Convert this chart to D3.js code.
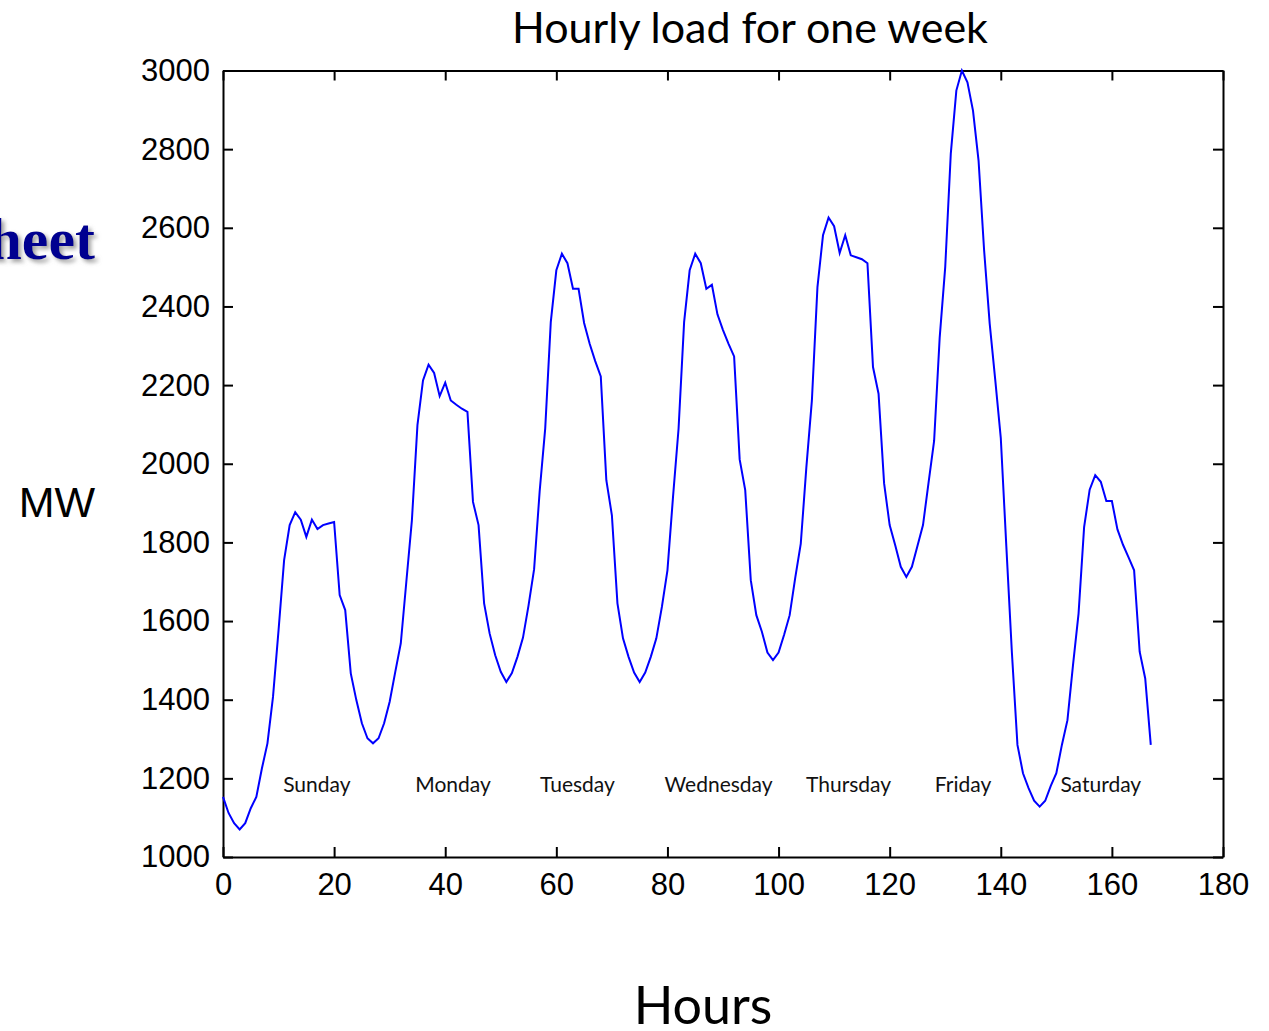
<!DOCTYPE html>
<html>
<head>
<meta charset="utf-8">
<script src="https://cdn.jsdelivr.net/npm/d3@7"></script>
<style>
  body { margin: 0; background: #fff; }
  svg { display: block; }
</style>
</head>
<body>
<div id="chart"></div>
<script>
// Hourly load (MW), hour 0 .. 167
var hours = d3.range(0, 168);
var load = [
  1153, 1112, 1086, 1070, 1086, 1124, 1153, 1225, 1289, 1407, 1577, 1755,
  1844, 1877, 1858, 1814, 1858, 1834, 1844, 1848, 1852, 1666, 1628, 1467,
  1399, 1340, 1302, 1289, 1302, 1340, 1395, 1470, 1543, 1700, 1856, 2098,
  2212, 2252, 2231, 2172, 2206, 2161, 2150, 2140, 2132, 1903, 1844, 1645,
  1568, 1513, 1471, 1445, 1468, 1509, 1558, 1640, 1732, 1930, 2090, 2360,
  2492, 2534, 2510, 2445, 2445, 2358, 2305, 2261, 2222, 1958, 1869, 1645,
  1556, 1509, 1469, 1445, 1469, 1509, 1556, 1636, 1729, 1915, 2089, 2360,
  2492, 2534, 2510, 2445, 2455, 2380, 2340, 2305, 2273, 2011, 1933, 1704,
  1615, 1573, 1520, 1501, 1520, 1565, 1615, 1710, 1797, 1990, 2161, 2449,
  2581, 2626, 2604, 2536, 2581, 2530, 2525, 2520, 2510, 2246, 2178, 1950,
  1844, 1793, 1738, 1712, 1738, 1791, 1844, 1952, 2058, 2320, 2500, 2788,
  2949, 3000, 2970, 2898, 2771, 2543, 2357, 2214, 2066, 1790, 1520, 1285,
  1213, 1175, 1143, 1128, 1143, 1181, 1213, 1285, 1348, 1488, 1619, 1839,
  1934, 1971, 1954, 1905, 1905, 1833, 1794, 1762, 1729, 1522, 1454, 1285
];

var dayNames = ["Sunday", "Monday", "Tuesday", "Wednesday", "Thursday", "Friday", "Saturday"];
var dayLabelHour = [16.9, 41.4, 63.8, 89.2, 112.6, 133.2, 158];

var xTicks = [0, 20, 40, 60, 80, 100, 120, 140, 160, 180];
var yTicks = [1000, 1200, 1400, 1600, 1800, 2000, 2200, 2400, 2600, 2800, 3000];

var svgWidth = 1269;
var svgHeight = 1031;

var plot = { left: 223, right: 1223, top: 70.5, bottom: 857 };

var svg = d3.select("#chart")
    .append("svg")
    .attr("width", svgWidth)
    .attr("height", svgHeight);

// slide text peeking in at the left, with drop shadow
var defs = svg.append("defs");
defs.append("filter")
    .attr("id", "shadow")
    .attr("x", "-20%").attr("y", "-20%")
    .attr("width", "140%").attr("height", "140%")
    .append("feDropShadow")
    .attr("dx", 3)
    .attr("dy", 3)
    .attr("stdDeviation", 2)
    .attr("flood-color", "#888")
    .attr("flood-opacity", 0.8);

svg.append("text")
    .attr("x", 95)
    .attr("y", 259)
    .attr("text-anchor", "end")
    .attr("filter", "url(#shadow)")
    .style("font-family", "'Liberation Serif', serif")
    .style("font-weight", "bold")
    .style("font-size", "60px")
    .style("fill", "#000090")
    .text("heet");

var xScale = d3.scaleLinear().domain([0, 180]).range([plot.left, plot.right]);
var yScale = d3.scaleLinear().domain([1000, 3000]).range([plot.bottom, plot.top]);

// frame + inward ticks on all four sides
var bottomAxis = d3.axisBottom(xScale).tickValues(xTicks).tickFormat(d3.format("d"))
    .tickSizeInner(-10).tickSizeOuter(0).tickPadding(16);
var topAxis = d3.axisTop(xScale).tickValues(xTicks).tickFormat("")
    .tickSizeInner(-10).tickSizeOuter(0);
var leftAxis = d3.axisLeft(yScale).tickValues(yTicks).tickFormat(d3.format("d"))
    .tickSizeInner(-10).tickSizeOuter(0).tickPadding(13);
var rightAxis = d3.axisRight(yScale).tickValues(yTicks).tickFormat("")
    .tickSizeInner(-10).tickSizeOuter(0);

function styleAxis(g) {
  g.selectAll("path, line").attr("stroke", "#000").attr("stroke-width", 2);
  g.selectAll("text")
    .attr("fill", "#000")
    .style("font-family", "'Liberation Sans', Arial, sans-serif")
    .style("font-size", "31px");
}

svg.append("g").attr("transform", `translate(0, ${plot.bottom})`).call(bottomAxis).call(styleAxis);
svg.append("g").attr("transform", `translate(0, ${plot.top})`).call(topAxis).call(styleAxis);
svg.append("g").attr("transform", `translate(${plot.left}, 0)`).call(leftAxis).call(styleAxis);
svg.append("g").attr("transform", `translate(${plot.right}, 0)`).call(rightAxis).call(styleAxis);

// load line
var line = d3.line()
    .x(function(d, i) { return xScale(hours[i]); })
    .y(function(d) { return yScale(d); });

svg.append("path")
    .datum(load)
    .attr("fill", "none")
    .attr("stroke", "#0000ff")
    .attr("stroke-width", 2)
    .attr("d", line);

// day labels
svg.append("g")
    .selectAll("text")
    .data(dayNames)
    .enter()
    .append("text")
    .attr("x", function(d, i) { return xScale(dayLabelHour[i]); })
    .attr("y", yScale(1165))
    .attr("text-anchor", "middle")
    .style("font-family", "Lato, 'Open Sans', sans-serif")
    .style("font-size", "21px")
    .style("fill", "#111")
    .text(function(d) { return d; });

// title
svg.append("text")
    .attr("x", 750)
    .attr("y", 43)
    .attr("text-anchor", "middle")
    .style("font-family", "Lato, 'Open Sans', sans-serif")
    .style("font-size", "43px")
    .style("fill", "#000")
    .text("Hourly load for one week");

// y label
svg.append("text")
    .attr("x", 57)
    .attr("y", 517)
    .attr("text-anchor", "middle")
    .style("font-family", "'Liberation Sans', Arial, sans-serif")
    .style("font-size", "43px")
    .style("fill", "#000")
    .text("MW");

// x label
svg.append("text")
    .attr("x", 703)
    .attr("y", 1024)
    .attr("text-anchor", "middle")
    .style("font-family", "Lato, 'Open Sans', sans-serif")
    .style("font-size", "52px")
    .style("fill", "#000")
    .text("Hours");
</script>
</body>
</html>
